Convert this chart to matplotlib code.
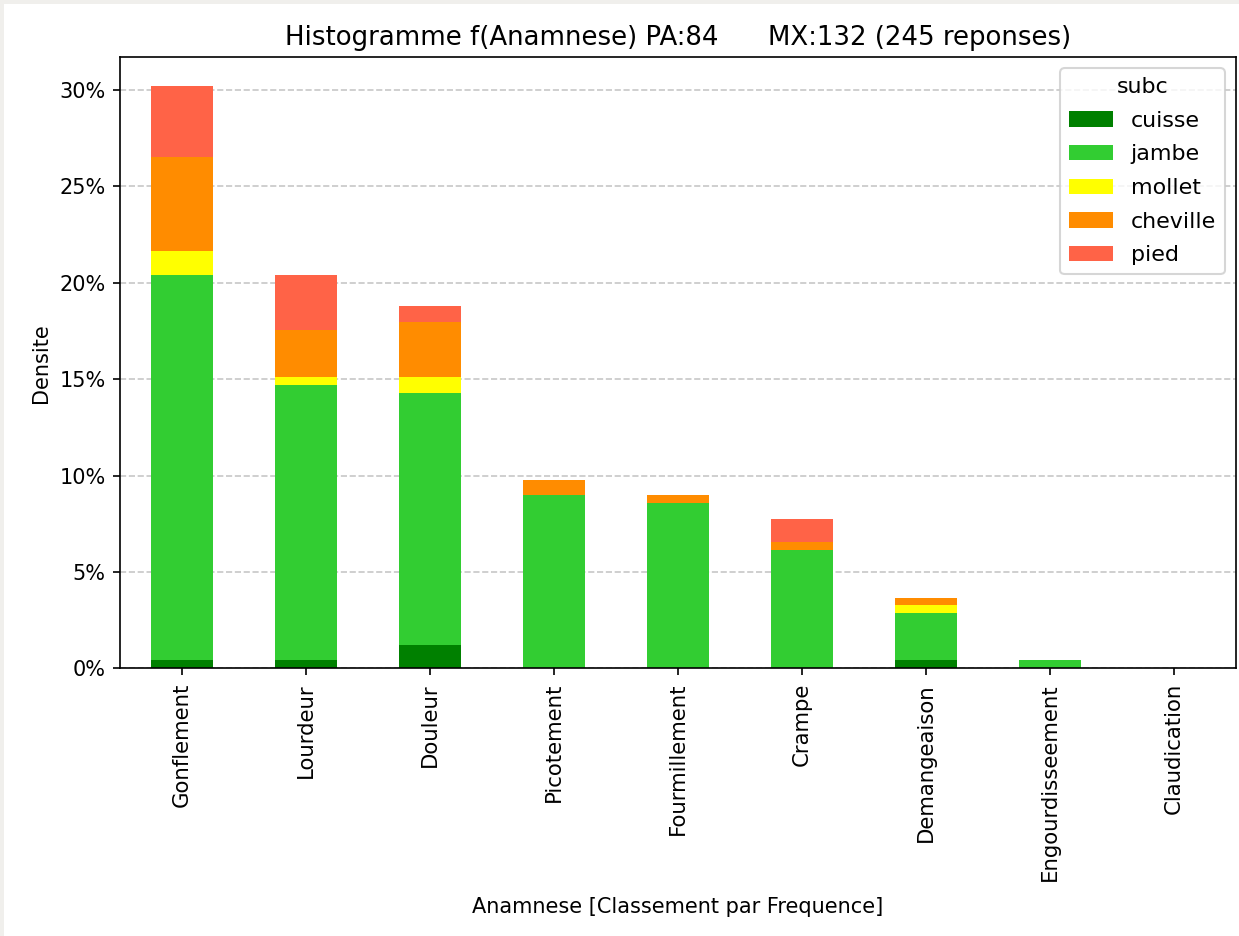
import matplotlib
matplotlib.use('Agg')
import matplotlib.pyplot as plt
import pandas as pd
from matplotlib.ticker import PercentFormatter
from matplotlib.patches import Rectangle

# counts (245 responses in total)
categories = ['Gonflement', 'Lourdeur', 'Douleur', 'Picotement', 'Fourmillement',
              'Crampe', 'Demangeaison', 'Engourdisseement', 'Claudication']
cuisse = [1, 1, 3, 0, 0, 0, 1, 0, 0]
jambe = [49, 35, 32, 22, 21, 15, 6, 1, 0]
mollet = [3, 1, 2, 0, 0, 0, 1, 0, 0]
cheville = [12, 6, 7, 2, 1, 1, 1, 0, 0]
pied = [9, 7, 2, 0, 0, 3, 0, 0, 0]
n_total = 245

colors = ['green', 'limegreen', 'yellow', 'darkorange', 'tomato']

df = pd.DataFrame({'cuisse': cuisse, 'jambe': jambe, 'mollet': mollet,
                   'cheville': cheville, 'pied': pied}, index=categories)
df = df / n_total * 100

fig, ax = plt.subplots(figsize=(1239 / 150, 936 / 150), dpi=150)
fig.subplots_adjust(left=0.097, right=0.9975, top=0.939, bottom=0.286)

df.plot(kind='bar', stacked=True, color=colors, ax=ax, width=0.5)
ax.tick_params(axis='x', labelsize=10.2)
ax.yaxis.set_major_formatter(PercentFormatter(decimals=0))
ax.grid(axis='y', linestyle='--', alpha=0.7)
ax.set_axisbelow(True)
ax.set_title('Histogramme f(Anamnese) PA:84      MX:132 (245 reponses)',
             fontsize=12.5)
ax.set_xlabel('Anamnese [Classement par Frequence]', labelpad=8)
ax.set_ylabel('Densite')
ax.legend(title='subc', loc='upper right', fontsize=10.6, title_fontsize=10.6,
          labelspacing=0.62)

# light border of the screenshot
fig.add_artist(Rectangle((0, 0), 0.003, 1, transform=fig.transFigure,
                         color='#f0efec', lw=0))
fig.add_artist(Rectangle((0, 0.996), 1, 0.004, transform=fig.transFigure,
                         color='#f0efec', lw=0))

fig.savefig('out.png', dpi=150)
